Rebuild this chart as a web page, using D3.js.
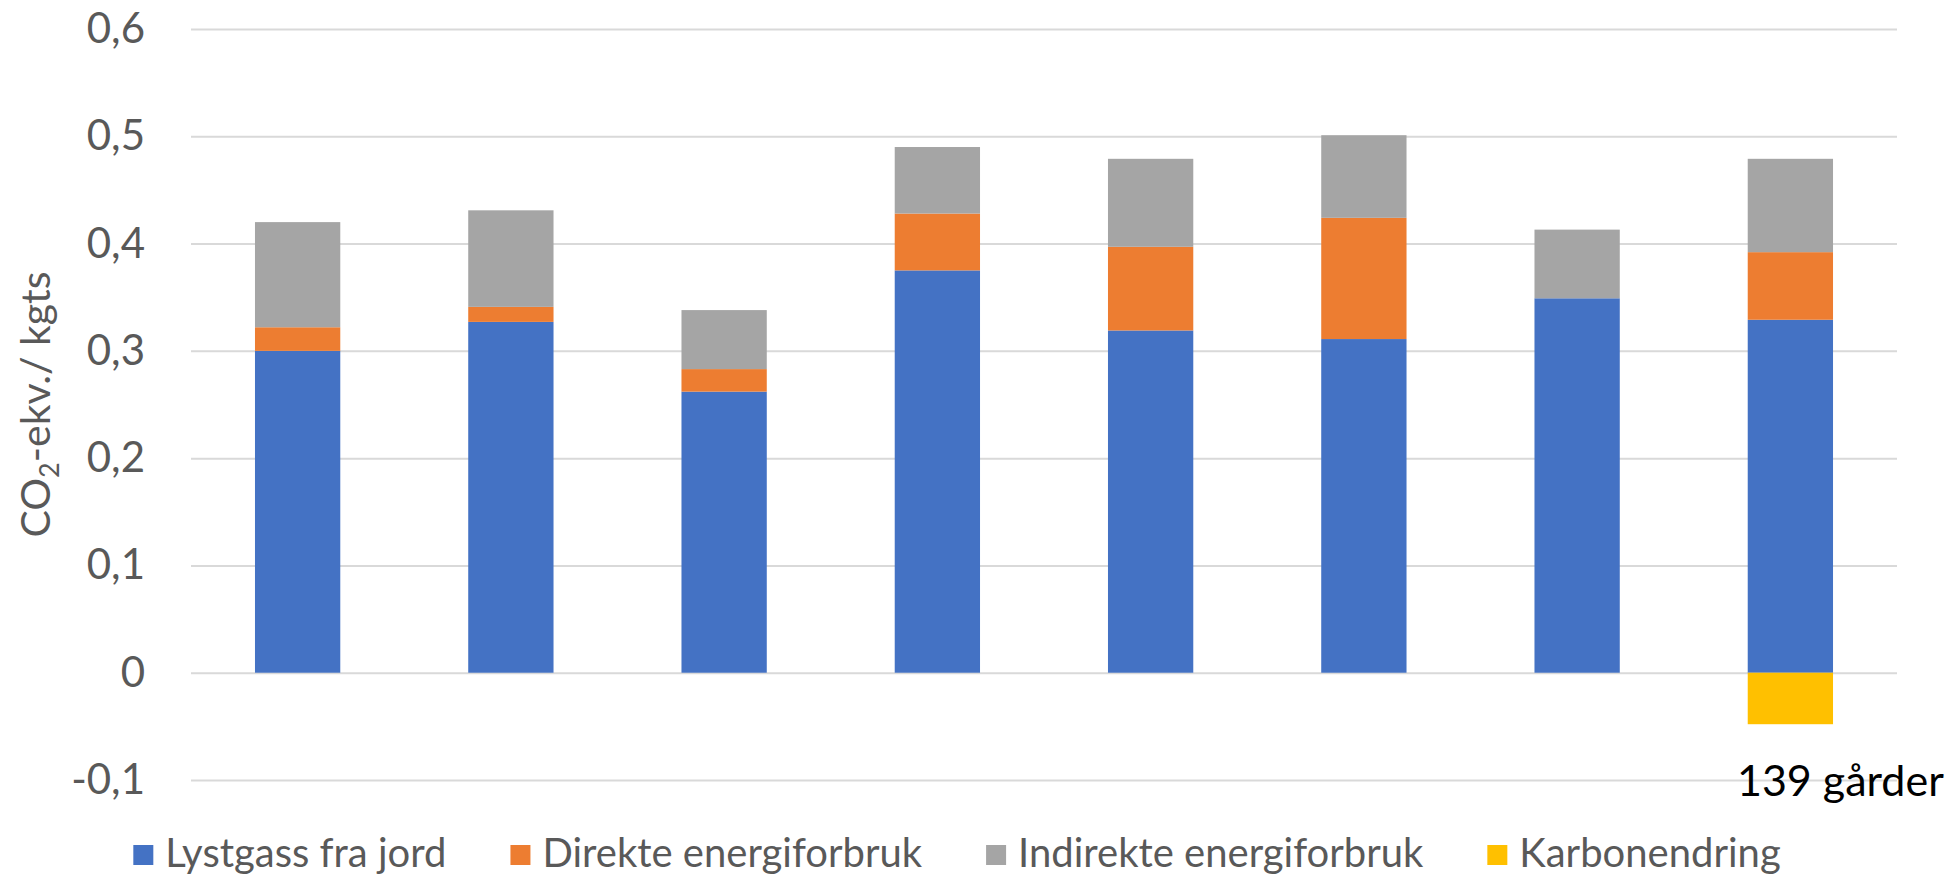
<!DOCTYPE html>
<html>
<head>
<meta charset="utf-8">
<script src="https://cdn.jsdelivr.net/npm/d3@7"></script>
<style>
  body { margin: 0; background: #fff; }
  svg { display: block; font-family: Lato, "Open Sans", sans-serif; }
</style>
</head>
<body>
<div id="chart"></div>
<script>
// Data
const categories = ["g1", "g2", "g3", "g4", "g5", "g6", "g7", "g8"];
const categoryLabels = ["", "", "", "", "", "", "", "139 gårder"];
const seriesNames = ["Lystgass fra jord", "Direkte energiforbruk", "Indirekte energiforbruk", "Karbonendring"];
const lystgass = [0.300, 0.327, 0.262, 0.375, 0.319, 0.311, 0.349, 0.329];
const direkte = [0.022, 0.014, 0.021, 0.053, 0.078, 0.113, 0, 0.063];
const indirekte = [0.098, 0.090, 0.055, 0.062, 0.082, 0.077, 0.064, 0.087];
const karbon = [0, 0, 0, 0, 0, 0, 0, -0.048];
const yTicks = [-0.1, 0, 0.1, 0.2, 0.3, 0.4, 0.5, 0.6];
const colors = ["#4472C4", "#ED7D31", "#A5A5A5", "#FFC000"];

const width = 1952, height = 878;
const margin = { left: 191, right: 55, top: 29, bottom: 98 };

const svg = d3.select("#chart")
  .append("svg")
  .attr("width", width)
  .attr("height", height);

const rows = categories.map((c, i) => ({
  cat: c,
  [seriesNames[0]]: lystgass[i],
  [seriesNames[1]]: direkte[i],
  [seriesNames[2]]: indirekte[i],
  [seriesNames[3]]: karbon[i]
}));

const x = d3.scaleBand()
  .domain(categories)
  .range([margin.left, width - margin.right])
  .paddingInner(0.6)
  .paddingOuter(0.3);

const y = d3.scaleLinear()
  .domain([-0.1, 0.6])
  .range([height - margin.bottom, margin.top]);

const locale = d3.formatLocale({ decimal: ",", thousands: " ", grouping: [3], currency: ["", ""], minus: "-" });
const fmt = locale.format(".1~f");

// Gridlines and tick labels
const yAxis = svg.append("g")
  .attr("transform", `translate(${margin.left},0)`)
  .call(d3.axisLeft(y)
    .tickValues(yTicks)
    .tickSize(-(width - margin.left - margin.right))
    .tickPadding(46)
    .tickFormat(fmt));

yAxis.select(".domain").remove();
yAxis.selectAll(".tick line")
  .attr("stroke", "#D9D9D9")
  .attr("stroke-width", 2);
yAxis.selectAll(".tick text")
  .attr("fill", "#595959")
  .attr("font-size", 42)
  .attr("font-family", "Lato, 'Open Sans', sans-serif");

// Stacked bars
const stack = d3.stack()
  .keys(seriesNames)
  .offset(d3.stackOffsetDiverging);
const stacked = stack(rows);

svg.append("g")
  .selectAll("g")
  .data(stacked)
  .join("g")
  .attr("fill", (d, i) => colors[i])
  .selectAll("rect")
  .data(d => d)
  .join("rect")
  .attr("x", d => x(d.data.cat))
  .attr("width", x.bandwidth())
  .attr("y", d => y(Math.max(d[0], d[1])))
  .attr("height", d => Math.abs(y(d[0]) - y(d[1])));

// Category labels
svg.append("g")
  .selectAll("text")
  .data(categories)
  .join("text")
  .attr("x", d => x(d) + x.bandwidth() / 2 + 50)
  .attr("y", y(-0.1) + 16)
  .attr("text-anchor", "middle")
  .attr("font-size", 43)
  .attr("fill", "#000")
  .text((d, i) => categoryLabels[i]);

// Y axis title
const title = svg.append("text")
  .attr("transform", `translate(50,${(y(-0.1) + y(0.6)) / 2}) rotate(-90)`)
  .attr("text-anchor", "middle")
  .attr("font-size", 41)
  .attr("fill", "#595959");
title.append("tspan").text("CO");
title.append("tspan").attr("font-size", 27).attr("dy", 9).text("2");
title.append("tspan").attr("dy", -9).text("-ekv./ kgts");

// Legend
const legend = svg.append("g");
const items = legend.selectAll("g")
  .data(seriesNames)
  .join("g");
items.append("rect")
  .attr("width", 20)
  .attr("height", 20)
  .attr("y", -22)
  .attr("fill", (d, i) => colors[i]);
items.append("text")
  .attr("x", 32)
  .attr("font-size", 40)
  .attr("fill", "#595959")
  .text(d => d);

let offset = 0;
items.each(function () {
  const g = d3.select(this);
  g.attr("transform", `translate(${offset},0)`);
  offset += 32 + g.select("text").node().getComputedTextLength() + 64;
});
const legendWidth = offset - 64;
legend.attr("transform", `translate(${957 - legendWidth / 2},867)`);
</script>
</body>
</html>
